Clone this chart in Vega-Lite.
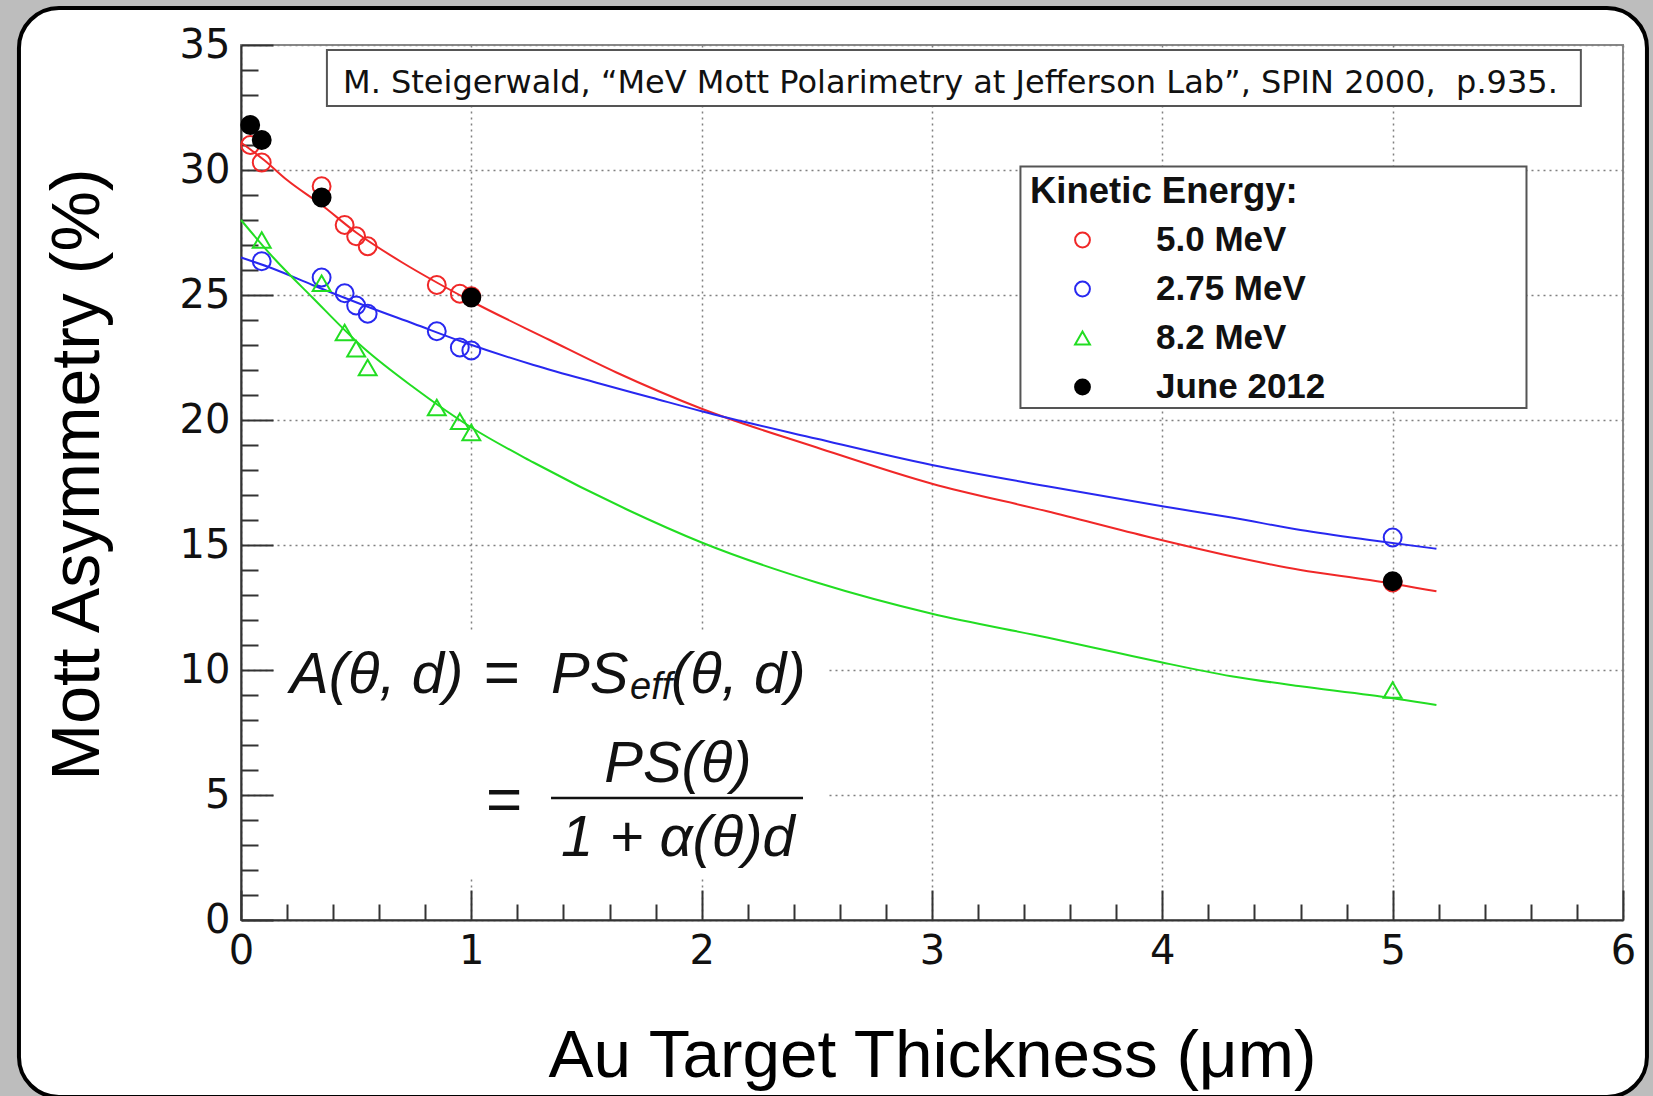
{
  "$schema": "https://vega.github.io/schema/vega-lite/v6.json",
  "width": 1382,
  "height": 875,
  "autosize": {"type": "none"},
  "padding": {"left": 241, "top": 45, "right": 30, "bottom": 176},
  "background": "#ffffff",
  "config": {
    "font": "Liberation Sans",
    "view": {"stroke": "#888888", "strokeWidth": 2}
  },
  "datasets": {
    "points": [
      {"series": "5.0 MeV", "d": 0.04, "A": 31.0},
      {"series": "5.0 MeV", "d": 0.09, "A": 30.3},
      {"series": "5.0 MeV", "d": 0.35, "A": 29.35},
      {"series": "5.0 MeV", "d": 0.45, "A": 27.8},
      {"series": "5.0 MeV", "d": 0.5, "A": 27.35},
      {"series": "5.0 MeV", "d": 0.55, "A": 26.95},
      {"series": "5.0 MeV", "d": 0.85, "A": 25.4},
      {"series": "5.0 MeV", "d": 0.95, "A": 25.05},
      {"series": "5.0 MeV", "d": 1.0, "A": 24.95},
      {"series": "5.0 MeV", "d": 5.0, "A": 13.5},
      {"series": "2.75 MeV", "d": 0.09, "A": 26.35},
      {"series": "2.75 MeV", "d": 0.35, "A": 25.7},
      {"series": "2.75 MeV", "d": 0.45, "A": 25.07},
      {"series": "2.75 MeV", "d": 0.5, "A": 24.58},
      {"series": "2.75 MeV", "d": 0.55, "A": 24.25},
      {"series": "2.75 MeV", "d": 0.85, "A": 23.55},
      {"series": "2.75 MeV", "d": 0.95, "A": 22.9},
      {"series": "2.75 MeV", "d": 1.0, "A": 22.78},
      {"series": "2.75 MeV", "d": 5.0, "A": 15.3},
      {"series": "8.2 MeV", "d": 0.09, "A": 27.2},
      {"series": "8.2 MeV", "d": 0.35, "A": 25.47},
      {"series": "8.2 MeV", "d": 0.45, "A": 23.5},
      {"series": "8.2 MeV", "d": 0.5, "A": 22.85},
      {"series": "8.2 MeV", "d": 0.55, "A": 22.1},
      {"series": "8.2 MeV", "d": 0.85, "A": 20.5},
      {"series": "8.2 MeV", "d": 0.95, "A": 19.95},
      {"series": "8.2 MeV", "d": 1.0, "A": 19.5},
      {"series": "8.2 MeV", "d": 5.0, "A": 9.2},
      {"series": "June 2012", "d": 0.04, "A": 31.8},
      {"series": "June 2012", "d": 0.09, "A": 31.2},
      {"series": "June 2012", "d": 0.35, "A": 28.9},
      {"series": "June 2012", "d": 1.0, "A": 24.9},
      {"series": "June 2012", "d": 5.0, "A": 13.55}
    ],
    "fits": [
      {"series": "5.0 MeV", "d": 0, "A": 31.1},
      {"series": "5.0 MeV", "d": 0.1, "A": 30.4},
      {"series": "5.0 MeV", "d": 0.2, "A": 29.6},
      {"series": "5.0 MeV", "d": 0.35, "A": 28.6},
      {"series": "5.0 MeV", "d": 0.5, "A": 27.5},
      {"series": "5.0 MeV", "d": 0.7, "A": 26.3},
      {"series": "5.0 MeV", "d": 0.85, "A": 25.5},
      {"series": "5.0 MeV", "d": 1.0, "A": 24.75},
      {"series": "5.0 MeV", "d": 1.34, "A": 23.2},
      {"series": "5.0 MeV", "d": 1.63, "A": 21.9},
      {"series": "5.0 MeV", "d": 2.0, "A": 20.45},
      {"series": "5.0 MeV", "d": 2.5, "A": 18.9},
      {"series": "5.0 MeV", "d": 3.0, "A": 17.45},
      {"series": "5.0 MeV", "d": 3.5, "A": 16.35},
      {"series": "5.0 MeV", "d": 3.95, "A": 15.3},
      {"series": "5.0 MeV", "d": 4.3, "A": 14.55},
      {"series": "5.0 MeV", "d": 4.6, "A": 14.0},
      {"series": "5.0 MeV", "d": 4.9, "A": 13.6},
      {"series": "5.0 MeV", "d": 5.19, "A": 13.15},
      {"series": "2.75 MeV", "d": 0, "A": 26.5},
      {"series": "2.75 MeV", "d": 0.14, "A": 26.05},
      {"series": "2.75 MeV", "d": 0.31, "A": 25.4},
      {"series": "2.75 MeV", "d": 0.53, "A": 24.6},
      {"series": "2.75 MeV", "d": 0.75, "A": 23.85},
      {"series": "2.75 MeV", "d": 0.97, "A": 23.1},
      {"series": "2.75 MeV", "d": 1.27, "A": 22.2},
      {"series": "2.75 MeV", "d": 1.56, "A": 21.45},
      {"series": "2.75 MeV", "d": 1.78, "A": 20.9},
      {"series": "2.75 MeV", "d": 2.0, "A": 20.35},
      {"series": "2.75 MeV", "d": 2.5, "A": 19.25},
      {"series": "2.75 MeV", "d": 3.0, "A": 18.2},
      {"series": "2.75 MeV", "d": 3.5, "A": 17.35},
      {"series": "2.75 MeV", "d": 4.0, "A": 16.55},
      {"series": "2.75 MeV", "d": 4.3, "A": 16.1},
      {"series": "2.75 MeV", "d": 4.6, "A": 15.6},
      {"series": "2.75 MeV", "d": 4.9, "A": 15.2},
      {"series": "2.75 MeV", "d": 5.19, "A": 14.85},
      {"series": "8.2 MeV", "d": 0, "A": 28.0},
      {"series": "8.2 MeV", "d": 0.14, "A": 26.5},
      {"series": "8.2 MeV", "d": 0.31, "A": 24.9},
      {"series": "8.2 MeV", "d": 0.53, "A": 22.9},
      {"series": "8.2 MeV", "d": 0.75, "A": 21.3},
      {"series": "8.2 MeV", "d": 1.0, "A": 19.7},
      {"series": "8.2 MeV", "d": 1.27, "A": 18.3},
      {"series": "8.2 MeV", "d": 1.68, "A": 16.4},
      {"series": "8.2 MeV", "d": 2.0, "A": 15.1},
      {"series": "8.2 MeV", "d": 2.5, "A": 13.5},
      {"series": "8.2 MeV", "d": 3.0, "A": 12.25},
      {"series": "8.2 MeV", "d": 3.5, "A": 11.3},
      {"series": "8.2 MeV", "d": 3.8, "A": 10.7},
      {"series": "8.2 MeV", "d": 4.0, "A": 10.3},
      {"series": "8.2 MeV", "d": 4.3, "A": 9.75},
      {"series": "8.2 MeV", "d": 4.6, "A": 9.35},
      {"series": "8.2 MeV", "d": 4.9, "A": 9.0},
      {"series": "8.2 MeV", "d": 5.19, "A": 8.6}
    ]
  },
  "layer": [
    {
      "data": {"values": [{}]},
      "mark": {"type": "rect", "filled": false, "stroke": "#bdbdbd", "strokeWidth": 40, "cornerRadius": 60},
      "encoding": {
        "x": {"datum": -1.051, "type": "quantitative", "axis": null},
        "x2": {"datum": 6.191},
        "y": {"datum": 37.28, "type": "quantitative", "axis": null},
        "y2": {"datum": -7.88}
      }
    },
    {
      "data": {"values": [{}]},
      "mark": {"type": "rect", "filled": false, "stroke": "#000000", "strokeWidth": 4, "cornerRadius": 40},
      "encoding": {
        "x": {"datum": -0.964, "type": "quantitative", "axis": null},
        "x2": {"datum": 6.104},
        "y": {"datum": 36.48, "type": "quantitative", "axis": null},
        "y2": {"datum": -7.08}
      }
    },
    {
      "data": {"values": [{}]},
      "mark": {"type": "rect", "fill": "#ffffff", "strokeWidth": 0},
      "encoding": {
        "x": {"datum": 0.152, "type": "quantitative", "axis": null},
        "x2": {"datum": 2.548},
        "y": {"datum": 11.52, "type": "quantitative", "axis": null},
        "y2": {"datum": 1.68}
      }
    },
    {
      "data": {"values": [{}]},
      "mark": {"type": "rect", "fill": "#ffffff", "stroke": "#555555", "strokeWidth": 2},
      "encoding": {
        "x": {"datum": 0.373, "type": "quantitative", "axis": null},
        "x2": {"datum": 5.817},
        "y": {"datum": 34.8, "type": "quantitative", "axis": null},
        "y2": {"datum": 32.56}
      }
    },
    {
      "data": {"values": [{}]},
      "mark": {"type": "rect", "fill": "#ffffff", "stroke": "#555555", "strokeWidth": 2},
      "encoding": {
        "x": {"datum": 3.384, "type": "quantitative", "axis": null},
        "x2": {"datum": 5.581},
        "y": {"datum": 30.14, "type": "quantitative", "axis": null},
        "y2": {"datum": 20.48}
      }
    },
    {
      "data": {"values": [{}]},
      "mark": {"type": "text", "text": "M. Steigerwald, “MeV Mott Polarimetry at Jefferson Lab”, SPIN 2000, \u00a0p.935.", "align": "left", "baseline": "alphabetic", "font": "DejaVu Sans", "fontSize": 32, "color": "#111111"},
      "encoding": {
        "x": {"datum": 0.443, "type": "quantitative", "axis": null},
        "y": {"datum": 33.08, "type": "quantitative", "axis": null}
      }
    },
    {
      "data": {"values": [{}]},
      "mark": {"type": "text", "text": "A(θ, d)", "align": "left", "baseline": "alphabetic", "font": "Liberation Sans", "fontStyle": "italic", "fontSize": 58, "color": "#111111"},
      "encoding": {
        "x": {"datum": 0.213, "type": "quantitative", "axis": null},
        "y": {"datum": 9.1, "type": "quantitative", "axis": null}
      }
    },
    {
      "data": {"values": [{}]},
      "mark": {"type": "text", "text": "=", "align": "center", "baseline": "alphabetic", "font": "Liberation Sans", "fontSize": 62, "color": "#111111"},
      "encoding": {
        "x": {"datum": 1.133, "type": "quantitative", "axis": null},
        "y": {"datum": 9.1, "type": "quantitative", "axis": null}
      }
    },
    {
      "data": {"values": [{}]},
      "mark": {"type": "text", "text": "PS", "align": "left", "baseline": "alphabetic", "font": "Liberation Sans", "fontStyle": "italic", "fontSize": 58, "color": "#111111"},
      "encoding": {
        "x": {"datum": 1.346, "type": "quantitative", "axis": null},
        "y": {"datum": 9.1, "type": "quantitative", "axis": null}
      }
    },
    {
      "data": {"values": [{}]},
      "mark": {"type": "text", "text": "eff", "align": "left", "baseline": "alphabetic", "font": "Liberation Sans", "fontStyle": "italic", "fontSize": 38, "color": "#111111"},
      "encoding": {
        "x": {"datum": 1.689, "type": "quantitative", "axis": null},
        "y": {"datum": 8.85, "type": "quantitative", "axis": null}
      }
    },
    {
      "data": {"values": [{}]},
      "mark": {"type": "text", "text": "(θ, d)", "align": "left", "baseline": "alphabetic", "font": "Liberation Sans", "fontStyle": "italic", "fontSize": 58, "color": "#111111"},
      "encoding": {
        "x": {"datum": 1.867, "type": "quantitative", "axis": null},
        "y": {"datum": 9.1, "type": "quantitative", "axis": null}
      }
    },
    {
      "data": {"values": [{}]},
      "mark": {"type": "text", "text": "=", "align": "center", "baseline": "alphabetic", "font": "Liberation Sans", "fontSize": 62, "color": "#111111"},
      "encoding": {
        "x": {"datum": 1.142, "type": "quantitative", "axis": null},
        "y": {"datum": 4.0, "type": "quantitative", "axis": null}
      }
    },
    {
      "data": {"values": [{}]},
      "mark": {"type": "text", "text": "PS(θ)", "align": "center", "baseline": "alphabetic", "font": "Liberation Sans", "fontStyle": "italic", "fontSize": 58, "color": "#111111"},
      "encoding": {
        "x": {"datum": 1.897, "type": "quantitative", "axis": null},
        "y": {"datum": 5.52, "type": "quantitative", "axis": null}
      }
    },
    {
      "data": {"values": [{}]},
      "mark": {"type": "rule", "color": "#111111", "strokeWidth": 2.5},
      "encoding": {
        "x": {"datum": 1.346, "type": "quantitative", "axis": null},
        "x2": {"datum": 2.44},
        "y": {"datum": 4.88, "type": "quantitative", "axis": null}
      }
    },
    {
      "data": {"values": [{}]},
      "mark": {"type": "text", "text": "1 + α(θ)d", "align": "center", "baseline": "alphabetic", "font": "Liberation Sans", "fontStyle": "italic", "fontSize": 58, "color": "#111111"},
      "encoding": {
        "x": {"datum": 1.897, "type": "quantitative", "axis": null},
        "y": {"datum": 2.56, "type": "quantitative", "axis": null}
      }
    },
    {
      "data": {"name": "fits"},
      "mark": {"type": "line", "strokeWidth": 2, "interpolate": "monotone"},
      "encoding": {
        "x": {
          "field": "d", "type": "quantitative",
          "scale": {"domain": [0, 6], "nice": false, "zero": false},
          "axis": {
            "orient": "bottom", "title": null, "labels": false, "domain": false, "grid": false,
            "values": [0.2, 0.4, 0.6, 0.8, 1.2, 1.4, 1.6, 1.8, 2.2, 2.4, 2.6, 2.8, 3.2, 3.4, 3.6, 3.8, 4.2, 4.4, 4.6, 4.8, 5.2, 5.4, 5.6, 5.8],
            "tickSize": -16, "tickWidth": 2, "tickColor": "#333333"
          }
        },
        "y": {
          "field": "A", "type": "quantitative",
          "scale": {"domain": [0, 35], "nice": false, "zero": false},
          "axis": {
            "orient": "left", "title": null, "labels": false, "domain": false, "grid": false,
            "values": [1, 2, 3, 4, 6, 7, 8, 9, 11, 12, 13, 14, 16, 17, 18, 19, 21, 22, 23, 24, 26, 27, 28, 29, 31, 32, 33, 34],
            "tickSize": -17, "tickWidth": 2, "tickColor": "#333333"
          }
        },
        "color": {
          "field": "series", "type": "nominal",
          "scale": {"domain": ["5.0 MeV", "2.75 MeV", "8.2 MeV"], "range": ["#f02828", "#2828f0", "#22dd22"]},
          "legend": null
        }
      }
    },
    {
      "data": {"name": "points"},
      "mark": {"type": "point", "size": 320, "strokeWidth": 2, "opacity": 1},
      "encoding": {
        "x": {
          "field": "d", "type": "quantitative",
          "scale": {"domain": [0, 6], "nice": false, "zero": false},
          "axis": {
            "orient": "bottom", "values": [0, 1, 2, 3, 4, 5, 6], "format": "d",
            "title": "Au Target Thickness (μm)", "titleFont": "Liberation Sans", "titleFontSize": 67.5, "titleFontWeight": "normal", "titleColor": "#000000",
            "titleX": 691, "titleY": 156, "titleAlign": "center", "titleBaseline": "alphabetic",
            "labelFont": "DejaVu Sans", "labelFontSize": 40, "labelColor": "#111111", "labelPadding": 41, "labelFlush": false, "labelOverlap": false,
            "tickSize": -30, "tickWidth": 2, "tickColor": "#333333",
            "domainColor": "#333333", "domainWidth": 2,
            "grid": true, "gridColor": "#808080", "gridDash": [2, 4], "gridWidth": 1.5
          }
        },
        "y": {
          "field": "A", "type": "quantitative",
          "scale": {"domain": [0, 35], "nice": false, "zero": false},
          "axis": {
            "orient": "left", "values": [0, 5, 10, 15, 20, 25, 30, 35], "format": "d",
            "title": "Mott Asymmetry (%)", "titleFont": "Liberation Sans", "titleFontSize": 68, "titleFontWeight": "normal", "titleColor": "#000000",
            "titleX": -163, "titleY": 429, "titleAngle": -90, "titleAlign": "center", "titleBaseline": "middle",
            "labelFont": "DejaVu Sans", "labelFontSize": 40, "labelColor": "#111111", "labelPadding": 43, "labelFlush": false, "labelOverlap": false,
            "tickSize": -32, "tickWidth": 2, "tickColor": "#333333",
            "domainColor": "#333333", "domainWidth": 2,
            "grid": true, "gridColor": "#808080", "gridDash": [2, 4], "gridWidth": 1.5
          }
        },
        "stroke": {
          "field": "series", "type": "nominal",
          "scale": {"domain": ["5.0 MeV", "2.75 MeV", "8.2 MeV", "June 2012"], "range": ["#f02828", "#2828f0", "#22dd22", "#000000"]},
          "legend": {
            "title": "Kinetic Energy:",
            "orient": "none", "legendX": 782, "legendY": 122,
            "titleFont": "Liberation Sans", "titleFontSize": 36.5, "titleFontWeight": "bold", "titleColor": "#111111", "titleLimit": 700, "titlePadding": 12,
            "labelFont": "Liberation Sans", "labelFontSize": 35, "labelFontWeight": "bold", "labelColor": "#111111", "labelLimit": 400, "labelOffset": 56,
            "symbolSize": 220, "symbolStrokeWidth": 2, "symbolOffset": 35, "rowPadding": 13,
            "padding": 7, "strokeColor": "transparent", "fillColor": "transparent"
          }
        },
        "fill": {
          "field": "series", "type": "nominal",
          "scale": {"domain": ["5.0 MeV", "2.75 MeV", "8.2 MeV", "June 2012"], "range": ["transparent", "transparent", "transparent", "#000000"]},
          "legend": {
            "title": "Kinetic Energy:",
            "orient": "none", "legendX": 782, "legendY": 122,
            "titleFont": "Liberation Sans", "titleFontSize": 36.5, "titleFontWeight": "bold", "titleColor": "#111111", "titleLimit": 700, "titlePadding": 12,
            "labelFont": "Liberation Sans", "labelFontSize": 35, "labelFontWeight": "bold", "labelColor": "#111111", "labelLimit": 400, "labelOffset": 56,
            "symbolSize": 220, "symbolStrokeWidth": 2, "symbolOffset": 35, "rowPadding": 13,
            "padding": 7, "strokeColor": "transparent", "fillColor": "transparent"
          }
        },
        "shape": {
          "field": "series", "type": "nominal",
          "scale": {"domain": ["5.0 MeV", "2.75 MeV", "8.2 MeV", "June 2012"], "range": ["circle", "circle", "triangle-up", "circle"]},
          "legend": {
            "title": "Kinetic Energy:",
            "orient": "none", "legendX": 782, "legendY": 122,
            "titleFont": "Liberation Sans", "titleFontSize": 36.5, "titleFontWeight": "bold", "titleColor": "#111111", "titleLimit": 700, "titlePadding": 12,
            "labelFont": "Liberation Sans", "labelFontSize": 35, "labelFontWeight": "bold", "labelColor": "#111111", "labelLimit": 400, "labelOffset": 56,
            "symbolSize": 220, "symbolStrokeWidth": 2, "symbolOffset": 35, "rowPadding": 13,
            "padding": 7, "strokeColor": "transparent", "fillColor": "transparent"
          }
        }
      }
    }
  ],
  "resolve": {"axis": {"x": "independent", "y": "independent"}}
}
